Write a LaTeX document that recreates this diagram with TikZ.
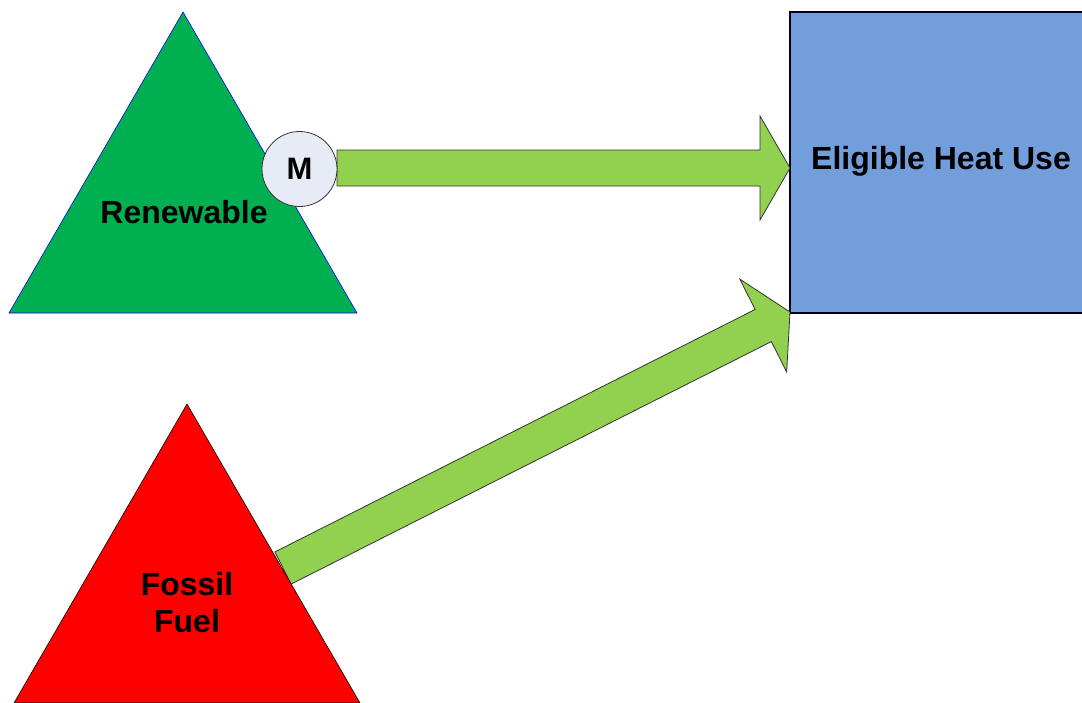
\documentclass[tikz,border=0pt]{standalone}
\usepackage{fontspec}
\setmainfont{Liberation Sans}
\usetikzlibrary{calc}

\definecolor{renewgreen}{RGB}{0,176,80}
\definecolor{flowgreen}{RGB}{146,208,80}
\definecolor{heatblue}{RGB}{114,159,219}
\definecolor{meterfill}{RGB}{230,235,246}

% fat block arrow from #1 to #2 (shaft half width 18, head half width 52, head length 30)
\newcommand{\fatarrow}[2]{%
  \coordinate (hb) at ($(#2)!30pt!(#1)$);
  \draw[flow] ($(#1)!18pt!-90:(#2)$) -- ($(hb)!18pt!-90:(#2)$) -- ($(hb)!52pt!-90:(#2)$)
    -- (#2) -- ($(hb)!52pt!90:(#2)$) -- ($(hb)!18pt!90:(#2)$) -- ($(#1)!18pt!90:(#2)$) -- cycle;}

\begin{document}
\begin{tikzpicture}[x=1pt,y=-1pt]

      \tikzset{flow/.style={draw=black!80, line width=0.8pt, fill=flowgreen, line join=miter},
               label/.style={font=\fontsize{32}{38}\selectfont\bfseries, align=center, inner sep=0pt}}
      \useasboundingbox (0,0) rectangle (1082,702);
      \clip (0,0) rectangle (1082,702);
%% Use
      	\draw[fill=heatblue, draw=black!75!blue!40!black, line width=1.2pt] (790,12) rectangle (1100,313);
      	\node[label] (use) at (941,161) {Eligible Heat Use};
%% Flows
      	\coordinate (ftail) at (283,568);
      	\coordinate (utip) at (790,312);
      	\fatarrow{ftail}{utip}
      	\coordinate (mtail) at (337,168);
      	\coordinate (htip) at (790,168);
      	\fatarrow{mtail}{htip}
%% Sources
      	\draw[fill=renewgreen, draw=blue, line width=0.6pt] (183,12) -- (357,313) -- (9,313) -- cycle;
      	\node[label] (renew) at (184,212) {Renewable};
      	\draw[fill=red, draw=black, line width=0.6pt] (187,404) -- (360,703) -- (14,703) -- cycle;
      	\node[label] (fossil) at (187,603) {Fossil\\[-1pt]Fuel};
%% Meter
      	\node[draw=black!80, line width=0.8pt, circle, fill=meterfill, minimum size=75pt, inner sep=0pt,
      	      font=\fontsize{31}{38}\selectfont\bfseries] (meter) at (299.5,169) {M};

	\end{tikzpicture}
\end{document}
